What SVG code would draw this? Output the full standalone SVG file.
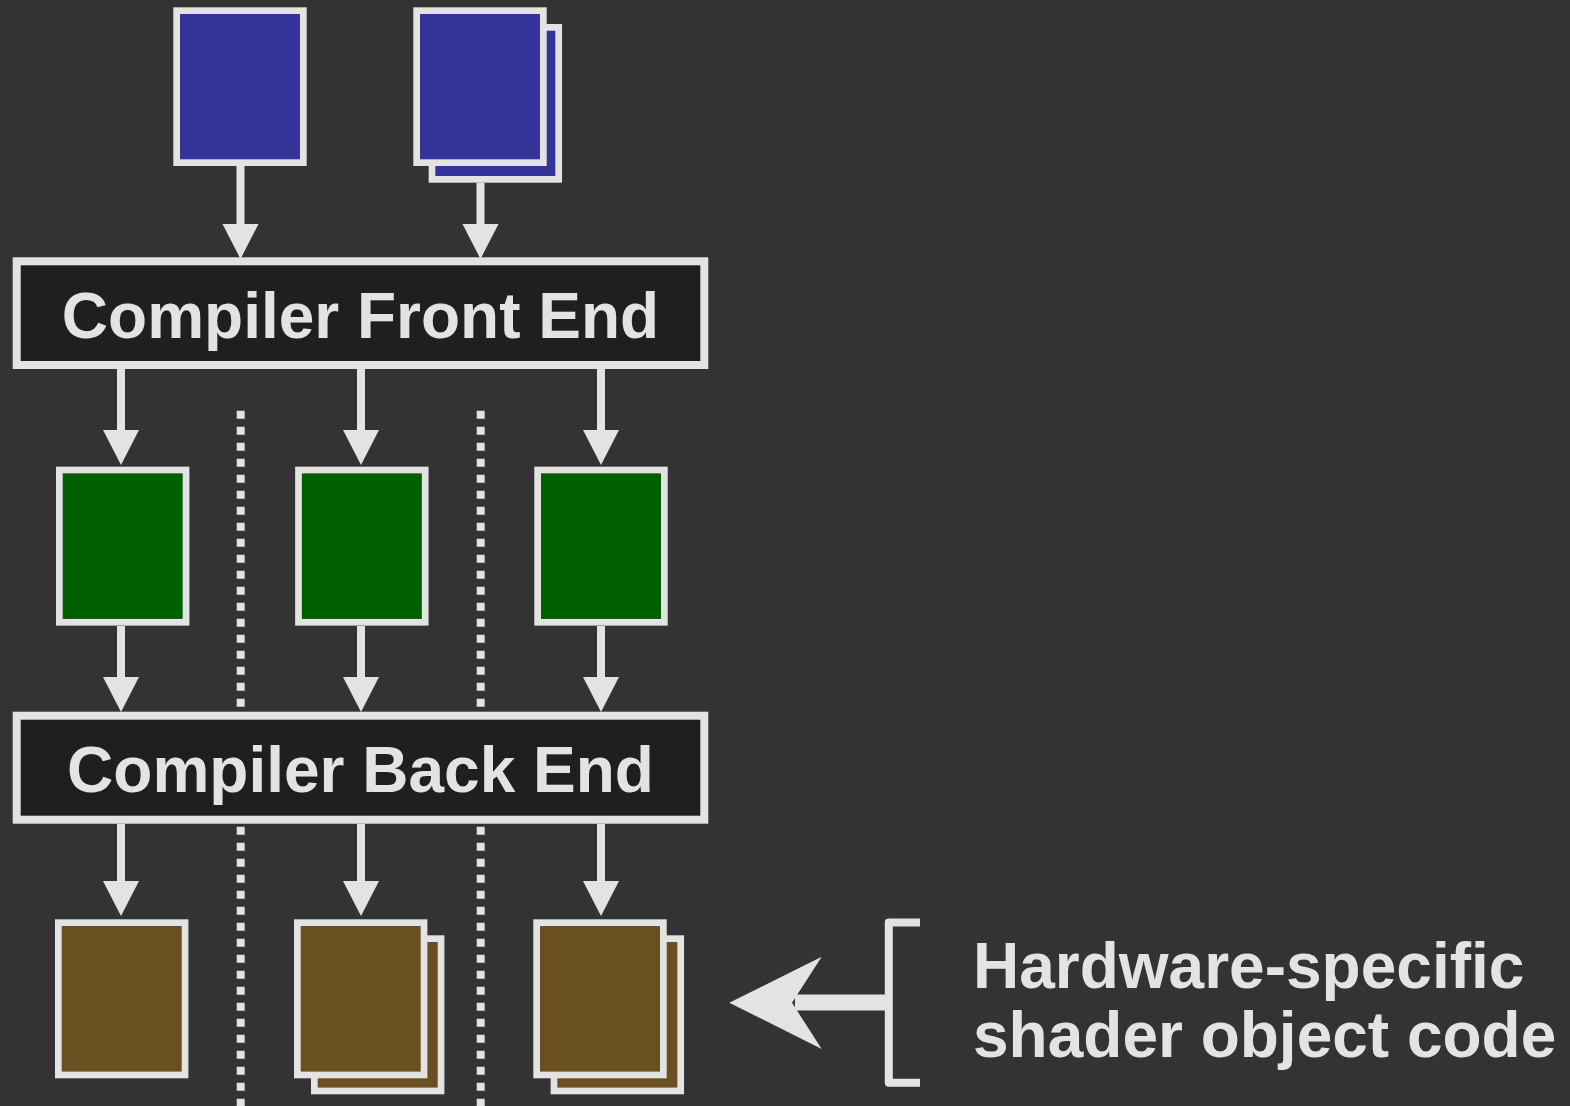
<svg xmlns="http://www.w3.org/2000/svg" width="1570" height="1106" viewBox="0 0 1570 1106">
  <style>
    .doc { stroke: #e3e3e3; stroke-width: 6.7; }
    .src { fill: #333399; }
    .ir { fill: #006000; }
    .obj { fill: #6a5020; }
    .stage { fill: #1f1f1f; stroke: #e3e3e3; stroke-width: 8; }
    .label { fill: #e3e3e3; font-family: "Liberation Sans", Arial, sans-serif; font-weight: bold; font-size: 64px; }
    .shaft { stroke: #e3e3e3; stroke-width: 8; fill: none; }
    .thick { stroke-width: 16; }
    .head { fill: #e3e3e3; }
    .sep { stroke: #e3e3e3; stroke-width: 8; stroke-dasharray: 8 8; fill: none; }
  </style>
  <defs>
    <!-- downward arrow head, base at origin, tip 35 below -->
    <path id="ah" d="M-18,0 L18,0 L0,35 Z"/>
  </defs>

  <rect width="1570" height="1106" fill="#333333"/>

  <!-- separators between the per-shader lanes -->
  <g id="separators">
    <path class="sep" d="M240.7,410.7 V706.7 M480.7,410.7 V706.7"/>
    <path class="sep" d="M240.7,826.7 V1106 M480.7,826.7 V1106"/>
  </g>

  <!-- source shaders -->
  <g id="source-single">
    <rect class="doc src" x="176.65" y="10.65" width="126.7" height="152"/>
  </g>
  <g id="source-multi">
    <rect class="doc src" x="432" y="27.35" width="126.7" height="152"/>
    <rect class="doc src" x="416.65" y="10.65" width="126.7" height="152"/>
  </g>

  <!-- connectors -->
  <g id="connectors">
    <path class="shaft" d="M240.5,166 V228 M480.5,182.7 V228"/>
    <use href="#ah" class="head" x="240.5" y="224"/>
    <use href="#ah" class="head" x="480.5" y="224"/>

    <path class="shaft" d="M121,369 V432 M361,369 V432 M601,369 V432"/>
    <use href="#ah" class="head" x="121" y="430"/>
    <use href="#ah" class="head" x="361" y="430"/>
    <use href="#ah" class="head" x="601" y="430"/>

    <path class="shaft" d="M121,626 V679 M361,626 V679 M601,626 V679"/>
    <use href="#ah" class="head" x="121" y="677"/>
    <use href="#ah" class="head" x="361" y="677"/>
    <use href="#ah" class="head" x="601" y="677"/>

    <path class="shaft" d="M121,823.7 V883 M361,823.7 V883 M601,823.7 V883"/>
    <use href="#ah" class="head" x="121" y="881"/>
    <use href="#ah" class="head" x="361" y="881"/>
    <use href="#ah" class="head" x="601" y="881"/>
  </g>

  <!-- front end stage -->
  <g id="front-end">
    <rect class="stage" x="16.7" y="261.3" width="687.6" height="103.7"/>
    <text class="label" x="360.5" y="338.3" text-anchor="middle">Compiler Front End</text>
  </g>

  <!-- intermediate representations -->
  <g id="ir-1"><rect class="doc ir" x="59.35" y="470" width="126.7" height="152.3"/></g>
  <g id="ir-2"><rect class="doc ir" x="298.5" y="470" width="126.7" height="152.3"/></g>
  <g id="ir-3"><rect class="doc ir" x="537.65" y="470" width="126.7" height="152.3"/></g>

  <!-- back end stage -->
  <g id="back-end">
    <rect class="stage" x="16.7" y="715.7" width="687.6" height="104"/>
    <text class="label" x="360.5" y="791.7" text-anchor="middle">Compiler Back End</text>
  </g>

  <!-- object code outputs -->
  <g id="obj-1">
    <rect class="doc obj" x="58.35" y="922.65" width="126.7" height="152.3"/>
  </g>
  <g id="obj-2">
    <rect class="doc obj" x="314.35" y="938.65" width="126.7" height="152.3"/>
    <rect class="doc obj" x="297.35" y="922.65" width="126.7" height="152.3"/>
  </g>
  <g id="obj-3">
    <rect class="doc obj" x="554" y="938.65" width="126.7" height="152.3"/>
    <rect class="doc obj" x="536.65" y="922.65" width="126.7" height="152.3"/>
  </g>

  <!-- callout -->
  <g id="callout">
    <path class="shaft" d="M920,922.5 H888.8 V1082.8 H920" stroke-linejoin="round"/>
    <path class="shaft thick" d="M795,1002.5 H888.8"/>
    <path class="head" d="M729.3,1002.7 L821.7,956.7 L792,1002.7 L821.7,1049 Z"/>
    <text class="label" x="973" y="987.5">Hardware-specific</text>
    <text class="label" x="973" y="1056.5">shader object code</text>
  </g>
</svg>
